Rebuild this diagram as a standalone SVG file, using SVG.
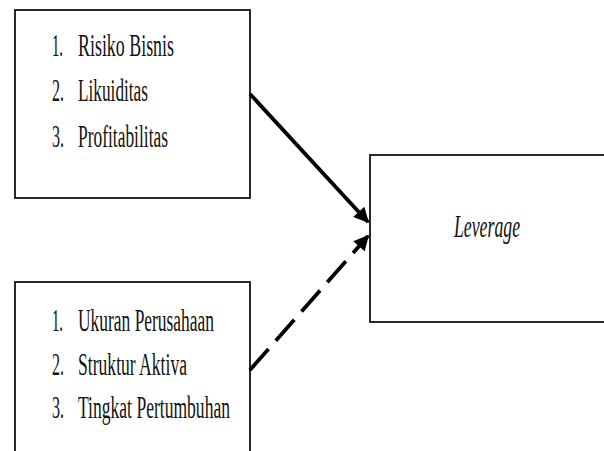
<svg xmlns="http://www.w3.org/2000/svg" width="604" height="451" viewBox="0 0 604 451">
<style>
.box{fill:#fff;stroke:#111;stroke-width:1.8}
.t{font-family:"Liberation Serif","Times New Roman",serif;font-size:31px;fill:#111}
.it{font-style:italic}
.conn{stroke:#000;stroke-width:3.8;fill:none}
</style>
<defs>
<marker id="ah" viewBox="0 0 10 10" refX="9" refY="5" markerWidth="4.2" markerHeight="4" orient="auto" markerUnits="strokeWidth">
<path d="M0,0 L10,5 L0,10 z" fill="#000"/>
</marker>
</defs>
<rect width="604" height="451" fill="#fff"/>
<g id="node-faktor1">
<rect class="box" x="15" y="10" width="235" height="188"/>
<text class="t" x="52" y="56" textLength="11" lengthAdjust="spacingAndGlyphs">1.</text>
<text class="t" x="78" y="56" textLength="96" lengthAdjust="spacingAndGlyphs">Risiko Bisnis</text>
<text class="t" x="52" y="101" textLength="12" lengthAdjust="spacingAndGlyphs">2.</text>
<text class="t" x="78" y="101" textLength="70" lengthAdjust="spacingAndGlyphs">Likuiditas</text>
<text class="t" x="52" y="147" textLength="12" lengthAdjust="spacingAndGlyphs">3.</text>
<text class="t" x="78" y="147" textLength="90" lengthAdjust="spacingAndGlyphs">Profitabilitas</text>
</g>
<g id="node-faktor2">
<rect class="box" x="15" y="282" width="235" height="200"/>
<text class="t" x="52" y="331" textLength="11" lengthAdjust="spacingAndGlyphs">1.</text>
<text class="t" x="78" y="331" textLength="136" lengthAdjust="spacingAndGlyphs">Ukuran Perusahaan</text>
<text class="t" x="52" y="375" textLength="12" lengthAdjust="spacingAndGlyphs">2.</text>
<text class="t" x="78" y="375" textLength="109" lengthAdjust="spacingAndGlyphs">Struktur Aktiva</text>
<text class="t" x="52" y="418" textLength="12" lengthAdjust="spacingAndGlyphs">3.</text>
<text class="t" x="78" y="418" textLength="152" lengthAdjust="spacingAndGlyphs">Tingkat Pertumbuhan</text>
</g>
<g id="node-leverage">
<rect class="box" x="370" y="155" width="250" height="167"/>
<text class="t it" x="454" y="237" textLength="66" lengthAdjust="spacingAndGlyphs">Leverage</text>
</g>
<g id="connectors">
<line class="conn" x1="250" y1="94" x2="368" y2="222" marker-end="url(#ah)"/>
<line class="conn" x1="250" y1="370" x2="368" y2="236" stroke-dasharray="28,11" marker-end="url(#ah)"/>
</g>
</svg>
